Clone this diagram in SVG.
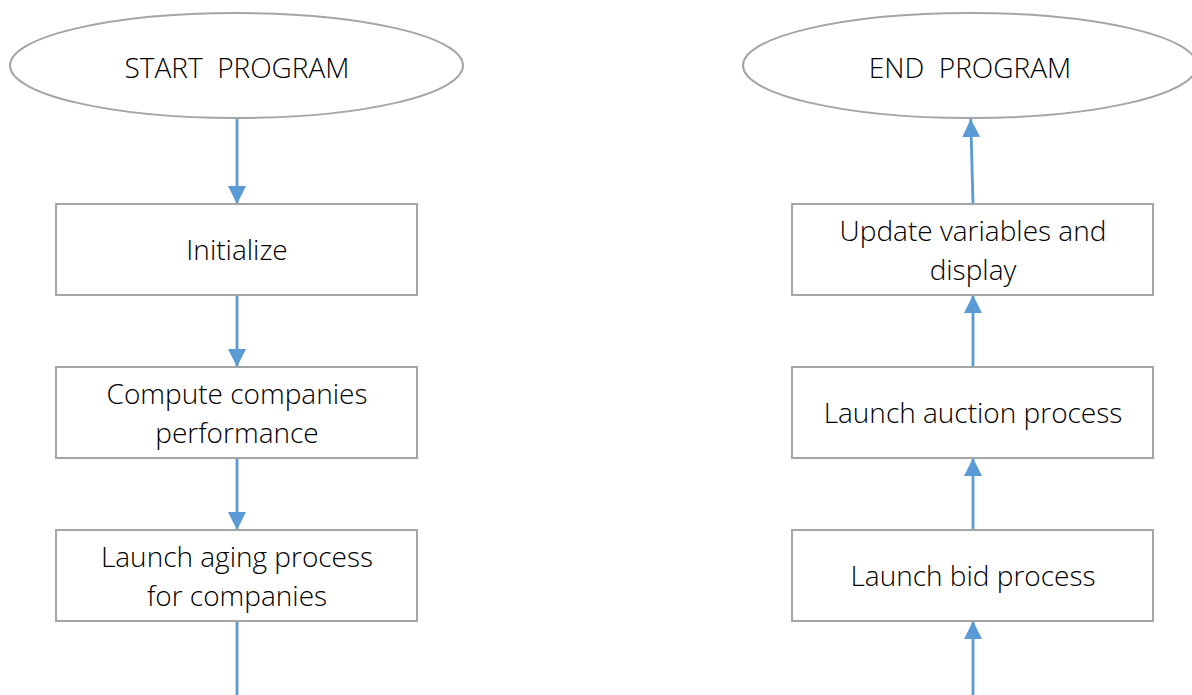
<svg xmlns="http://www.w3.org/2000/svg" width="1192" height="695" viewBox="0 0 1192 695">
<style>
.n{fill:#fff;stroke:#A5A5A5;stroke-width:2}
.t{font-family:"Open Sans","Liberation Sans",sans-serif;font-size:28px;font-weight:300;fill:#000;text-anchor:middle}
.c{stroke:#5B9BD5;stroke-width:2.8;fill:none}
</style>
<defs>
<marker id="ah" viewBox="0 0 10 10" refX="10" refY="5" markerWidth="18" markerHeight="18" markerUnits="userSpaceOnUse" orient="auto">
<path d="M0,0 L10,5 L0,10 Z" fill="#5B9BD5"/>
</marker>
</defs>
<rect width="1192" height="695" fill="#fff"/>
<g id="connectors">
<line class="c" x1="237" y1="118" x2="237" y2="204" marker-end="url(#ah)"/>
<line class="c" x1="237" y1="295" x2="237" y2="367" marker-end="url(#ah)"/>
<line class="c" x1="237" y1="458" x2="237" y2="530" marker-end="url(#ah)"/>
<line class="c" x1="237" y1="621" x2="237" y2="695"/>
<line class="c" x1="973" y1="695" x2="973" y2="621" marker-end="url(#ah)"/>
<line class="c" x1="973" y1="530" x2="973" y2="458" marker-end="url(#ah)"/>
<line class="c" x1="973" y1="367" x2="973" y2="295" marker-end="url(#ah)"/>
<line class="c" x1="973" y1="204" x2="970.7" y2="119" marker-end="url(#ah)"/>
</g>
<g id="start">
<ellipse class="n" cx="236.5" cy="65.5" rx="226.5" ry="52.5"/>
<text class="t" x="237" y="78" xml:space="preserve">START  PROGRAM</text>
</g>
<g id="init">
<rect class="n" x="56" y="204" width="361" height="91"/>
<text class="t" x="237" y="260">Initialize</text>
</g>
<g id="compute">
<rect class="n" x="56" y="367" width="361" height="91"/>
<text class="t" x="237" y="404">Compute companies</text>
<text class="t" x="237" y="443">performance</text>
</g>
<g id="aging">
<rect class="n" x="56" y="530" width="361" height="91"/>
<text class="t" x="237" y="567">Launch aging process</text>
<text class="t" x="237" y="606">for companies</text>
</g>
<g id="end">
<ellipse class="n" cx="970" cy="65.5" rx="227" ry="52.5"/>
<text class="t" x="970" y="78" xml:space="preserve">END  PROGRAM</text>
</g>
<g id="update">
<rect class="n" x="792" y="204" width="361" height="91"/>
<text class="t" x="973" y="241">Update variables and</text>
<text class="t" x="973" y="280">display</text>
</g>
<g id="auction">
<rect class="n" x="792" y="367" width="361" height="91"/>
<text class="t" x="973" y="423">Launch auction process</text>
</g>
<g id="bid">
<rect class="n" x="792" y="530" width="361" height="91"/>
<text class="t" x="973" y="586">Launch bid process</text>
</g>
</svg>
